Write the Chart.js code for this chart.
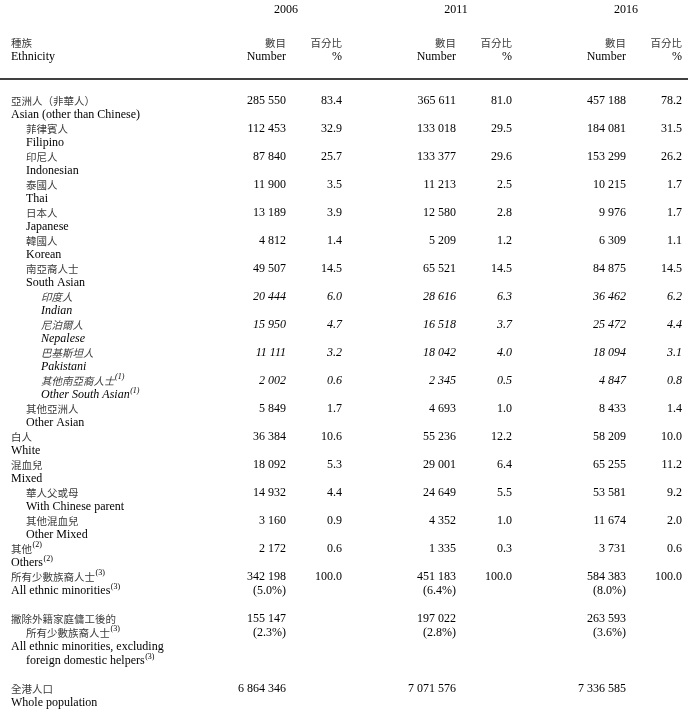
<!DOCTYPE html>
<html lang="zh-Hant">
<head>
  <meta charset="UTF-8" />
  <title>少數族裔人士 Ethnic minorities 2006-2016</title>
  <script src="https://cdn.jsdelivr.net/npm/chart.js"></script>
  <style>
    *{margin:0;padding:0;box-sizing:border-box}
    body{background:#fff}
    .wrap{width:690px;height:714px;position:relative}
  </style>
</head>
<body>
  <div class="wrap"><canvas id="tbl"></canvas></div>

  <script>
    // ---- data ----
    const years = ['2006', '2011', '2016'];
    const groupZh = ['亞洲人（非華人）', '菲律賓人', '印尼人', '泰國人', '日本人', '韓國人', '南亞裔人士',
      '印度人', '尼泊爾人', '巴基斯坦人', '其他南亞裔人士', '其他亞洲人', '白人', '混血兒', '華人父或母',
      '其他混血兒', '其他', '所有少數族裔人士'];
    const groupEn = ['Asian (other than Chinese)', 'Filipino', 'Indonesian', 'Thai', 'Japanese', 'Korean',
      'South Asian', 'Indian', 'Nepalese', 'Pakistani', 'Other South Asian', 'Other Asian', 'White', 'Mixed',
      'With Chinese parent', 'Other Mixed', 'Others', 'All ethnic minorities'];
    const groupLevel = [0, 1, 1, 1, 1, 1, 1, 2, 2, 2, 2, 1, 0, 0, 1, 1, 0, 0];
    const groupNote = [null, null, null, null, null, null, null, null, null, null, 1, null, null, null, null, null, 2, 3];

    const num2006 = [285550, 112453, 87840, 11900, 13189, 4812, 49507, 20444, 15950, 11111, 2002, 5849, 36384, 18092, 14932, 3160, 2172, 342198];
    const pct2006 = [83.4, 32.9, 25.7, 3.5, 3.9, 1.4, 14.5, 6.0, 4.7, 3.2, 0.6, 1.7, 10.6, 5.3, 4.4, 0.9, 0.6, 100.0];
    const num2011 = [365611, 133018, 133377, 11213, 12580, 5209, 65521, 28616, 16518, 18042, 2345, 4693, 55236, 29001, 24649, 4352, 1335, 451183];
    const pct2011 = [81.0, 29.5, 29.6, 2.5, 2.8, 1.2, 14.5, 6.3, 3.7, 4.0, 0.5, 1.0, 12.2, 6.4, 5.5, 1.0, 0.3, 100.0];
    const num2016 = [457188, 184081, 153299, 10215, 9976, 6309, 84875, 36462, 25472, 18094, 4847, 8433, 58209, 65255, 53581, 11674, 3731, 584383];
    const pct2016 = [78.2, 31.5, 26.2, 1.7, 1.7, 1.1, 14.5, 6.2, 4.4, 3.1, 0.8, 1.4, 10.0, 11.2, 9.2, 2.0, 0.6, 100.0];

    const minorityShare = [5.0, 6.4, 8.0];          // % of whole population
    const exclFdhNum = [155147, 197022, 263593];
    const exclFdhShare = [2.3, 2.8, 3.6];
    const wholePop = [6864346, 7071576, 7336585];

    const numCols = [num2006, num2011, num2016];
    const pctCols = [pct2006, pct2011, pct2016];

    // ---- layout (scale units: x = px columns, y = text lines of 14px) ----
    const X_NUM = [286, 456, 626];
    const X_PCT = [342, 512, 682];
    const X_INDENT = [11, 26, 41];
    const Y_YEAR = -6.5, Y_HEAD1 = -4.14, Y_HEAD2 = -3.14, Y_RULE = -1.57;
    const SERIF = '"Liberation Serif", "Times New Roman", serif';
    const CJK = '"Noto Sans CJK TC", "Noto Sans CJK SC", sans-serif';
    const INK = '#000', INK_ZH = '#3c3c3c';

    const fmtNum = v => String(v).replace(/\B(?=(\d{3})+(?!\d))/g, ' ');
    const fmtPct = v => v.toFixed(1);

    function txt(ctx, s, x, y, o) {
      o = o || {};
      ctx.font = o.font;
      ctx.fillStyle = o.color || INK;
      ctx.textAlign = o.align || 'left';
      ctx.textBaseline = 'middle';
      ctx.fillText(s, x, y);
      if (o.note) {
        const w = ctx.measureText(s).width;
        ctx.font = (o.italic ? 'italic ' : '') + '8px ' + SERIF;
        ctx.fillStyle = INK;
        ctx.textAlign = 'left';
        ctx.fillText('(' + o.note + ')', x + w + 0.5, y - 4);
      }
    }

    const tablePlugin = {
      id: 'tablePlugin',
      afterDraw(chart) {
        const ctx = chart.ctx, sx = chart.scales.x, sy = chart.scales.y;
        const X = v => sx.getPixelForValue(v), Y = v => sy.getPixelForValue(v);
        const fEn = (it) => (it ? 'italic ' : '') + '12px ' + SERIF;
        const fZh = (it) => (it ? 'italic ' : '') + '10.5px ' + CJK;
        ctx.save();

        // headers
        years.forEach((yr, c) => txt(ctx, yr, X(X_NUM[c]), Y(Y_YEAR), { font: fEn(), align: 'center' }));
        txt(ctx, '種族', X(X_INDENT[0]), Y(Y_HEAD1), { font: fZh(), color: INK_ZH });
        txt(ctx, 'Ethnicity', X(X_INDENT[0]), Y(Y_HEAD2), { font: fEn() });
        years.forEach((yr, c) => {
          txt(ctx, '數目', X(X_NUM[c]), Y(Y_HEAD1), { font: fZh(), color: INK_ZH, align: 'right' });
          txt(ctx, 'Number', X(X_NUM[c]), Y(Y_HEAD2), { font: fEn(), align: 'right' });
          txt(ctx, '百分比', X(X_PCT[c]), Y(Y_HEAD1), { font: fZh(), color: INK_ZH, align: 'right' });
          txt(ctx, '%', X(X_PCT[c]), Y(Y_HEAD2), { font: fEn(), align: 'right' });
        });
        ctx.strokeStyle = INK;
        ctx.lineWidth = 1.6;
        ctx.beginPath();
        ctx.moveTo(X(0), Y(Y_RULE));
        ctx.lineTo(X(688), Y(Y_RULE));
        ctx.stroke();

        // body rows
        groupZh.forEach((zh, i) => {
          const lv = groupLevel[i], it = lv === 2, k = i * 2;
          txt(ctx, zh, X(X_INDENT[lv]), Y(k), { font: fZh(it), color: INK_ZH, note: groupNote[i], italic: it });
          txt(ctx, groupEn[i], X(X_INDENT[lv]), Y(k + 1), { font: fEn(it), note: groupNote[i], italic: it });
          years.forEach((yr, c) => {
            txt(ctx, fmtNum(numCols[c][i]), X(X_NUM[c]), Y(k), { font: fEn(it), align: 'right' });
            txt(ctx, fmtPct(pctCols[c][i]), X(X_PCT[c]), Y(k), { font: fEn(it), align: 'right' });
          });
        });
        const kTot = (groupZh.length - 1) * 2;
        years.forEach((yr, c) => {
          txt(ctx, '(' + fmtPct(minorityShare[c]) + '%)', X(X_NUM[c]), Y(kTot + 1), { font: fEn(), align: 'right' });
        });

        // excluding foreign domestic helpers
        const kEx = kTot + 3;
        txt(ctx, '撇除外籍家庭傭工後的', X(X_INDENT[0]), Y(kEx), { font: fZh(), color: INK_ZH });
        txt(ctx, '所有少數族裔人士', X(X_INDENT[1]), Y(kEx + 1), { font: fZh(), color: INK_ZH, note: 3 });
        txt(ctx, 'All ethnic minorities, excluding', X(X_INDENT[0]), Y(kEx + 2), { font: fEn() });
        txt(ctx, 'foreign domestic helpers', X(X_INDENT[1]), Y(kEx + 3), { font: fEn(), note: 3 });
        years.forEach((yr, c) => {
          txt(ctx, fmtNum(exclFdhNum[c]), X(X_NUM[c]), Y(kEx), { font: fEn(), align: 'right' });
          txt(ctx, '(' + fmtPct(exclFdhShare[c]) + '%)', X(X_NUM[c]), Y(kEx + 1), { font: fEn(), align: 'right' });
        });

        // whole population
        const kWp = kEx + 5;
        txt(ctx, '全港人口', X(X_INDENT[0]), Y(kWp), { font: fZh(), color: INK_ZH });
        txt(ctx, 'Whole population', X(X_INDENT[0]), Y(kWp + 1), { font: fEn() });
        years.forEach((yr, c) => {
          txt(ctx, fmtNum(wholePop[c]), X(X_NUM[c]), Y(kWp), { font: fEn(), align: 'right' });
        });

        ctx.restore();
      }
    };

    new Chart(document.getElementById('tbl'), {
      type: 'scatter',
      data: { datasets: [{ data: [], showLine: false }] },
      options: {
        responsive: true,
        maintainAspectRatio: false,
        animation: false,
        layout: { padding: 0 },
        plugins: { legend: { display: false }, tooltip: { enabled: false } },
        scales: {
          x: { type: 'linear', min: 0, max: 690, display: false },
          y: { type: 'linear', min: -101 / 14, max: 613 / 14, reverse: true, display: false }
        }
      },
      plugins: [tablePlugin]
    });
  </script>
</body>
</html>
